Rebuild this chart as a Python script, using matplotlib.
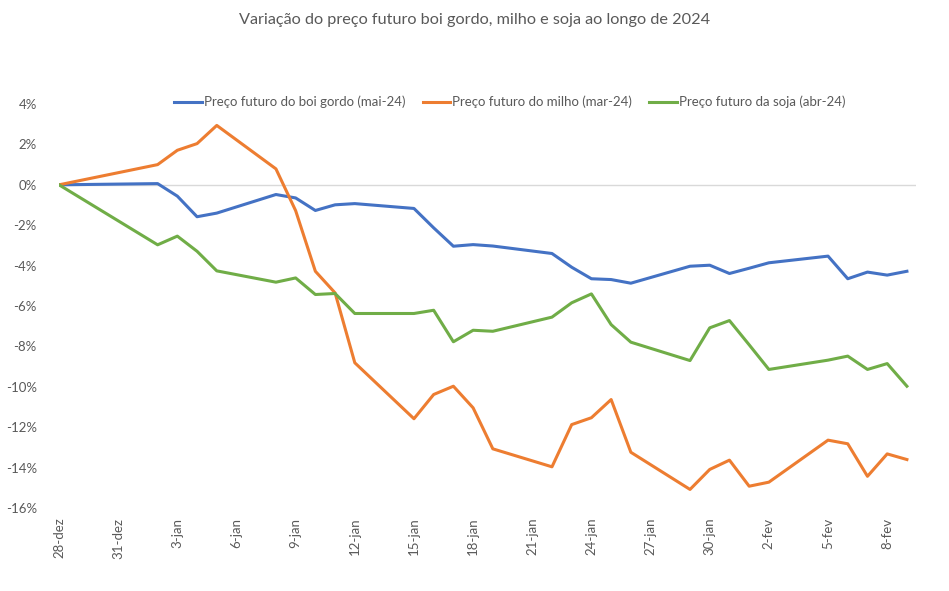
import matplotlib
matplotlib.use("Agg")
import matplotlib.pyplot as plt
import pandas as pd

# dias de pregao (28-dez-2023 a 9-fev-2024)
datas = ["2023-12-28", "2024-01-02", "2024-01-03", "2024-01-04", "2024-01-05",
         "2024-01-08", "2024-01-09", "2024-01-10", "2024-01-11", "2024-01-12",
         "2024-01-15", "2024-01-16", "2024-01-17", "2024-01-18", "2024-01-19",
         "2024-01-22", "2024-01-23", "2024-01-24", "2024-01-25", "2024-01-26",
         "2024-01-29", "2024-01-30", "2024-01-31", "2024-02-01", "2024-02-02",
         "2024-02-05", "2024-02-06", "2024-02-07", "2024-02-08", "2024-02-09"]

# variacao acumulada (%)
boi = [0, 0.06, -0.56, -1.58, -1.40, -0.48, -0.65, -1.27, -0.99, -0.93,
       -1.17, -2.13, -3.04, -2.96, -3.03, -3.40, -4.08, -4.65, -4.69, -4.87,
       -4.03, -3.98, -4.39, -4.13, -3.86, -3.53, -4.65, -4.32, -4.47, -4.28]
milho = [0, 1.00, 1.71, 2.04, 2.94, 0.79, -1.28, -4.28, -5.35, -8.81,
         -11.58, -10.38, -9.97, -11.04, -13.07, -13.96, -11.87, -11.53, -10.63, -13.24,
         -15.08, -14.09, -13.63, -14.92, -14.72, -12.64, -12.82, -14.43, -13.32, -13.60]
soja = [0, -2.97, -2.54, -3.29, -4.26, -4.82, -4.61, -5.43, -5.38, -6.37,
        -6.37, -6.21, -7.77, -7.20, -7.25, -6.55, -5.84, -5.40, -6.92, -7.79,
        -8.70, -7.08, -6.72, -7.92, -9.14, -8.68, -8.48, -9.14, -8.85, -9.97]

rotulos = ["28-dez", "31-dez", "3-jan", "6-jan", "9-jan", "12-jan", "15-jan", "18-jan",
           "21-jan", "24-jan", "27-jan", "30-jan", "2-fev", "5-fev", "8-fev"]
y_ticks = [4, 2, 0, -2, -4, -6, -8, -10, -12, -14, -16]

plt.rcParams['font.family'] = ['Lato', 'DejaVu Sans']
cinza = '#595959'

t = pd.to_datetime(datas)
dia = (t - t[0]).days

fig = plt.figure(figsize=(9.49, 5.91), dpi=100)
ax = fig.add_axes([0.0622, 0.1404, 0.9028, 0.6836])

ax.axhline(0, color='#D9D9D9', linewidth=1, zorder=1)
ax.plot(dia, boi, color='#4472C4', linewidth=2.2, label='Preço futuro do boi gordo (mai-24)', zorder=3)
ax.plot(dia, milho, color='#ED7D31', linewidth=2.2, label='Preço futuro do milho (mar-24)', zorder=3)
ax.plot(dia, soja, color='#70AD47', linewidth=2.2, label='Preço futuro da soja (abr-24)', zorder=3)

ax.set_xlim(0, 43.45)
ax.set_ylim(-16, 4)
ax.set_xticks(range(0, 3 * len(rotulos), 3))
ax.set_xticklabels(rotulos, rotation=90, color=cinza, fontsize=9.5)
ax.set_yticks(y_ticks)
ax.set_yticklabels([f"{v}%" for v in y_ticks], color=cinza, fontsize=9.5)
ax.tick_params(axis='both', length=0)
ax.tick_params(axis='x', pad=7)
ax.tick_params(axis='y', pad=16)
for s in ax.spines.values():
    s.set_visible(False)

fig.text(0.5, 1 - 20 / 591, 'Variação do preço futuro boi gordo, milho e soja ao longo de 2024',
         ha='center', va='center', fontsize=11.7, color=cinza)

fig.legend(loc='center', bbox_to_anchor=(510 / 949, 1 - 102 / 591), ncol=3, frameon=False,
           fontsize=9.5, labelcolor=cinza, handlelength=2.1, handletextpad=0.15,
           columnspacing=1.3)

fig.savefig('out.png', dpi=100)
